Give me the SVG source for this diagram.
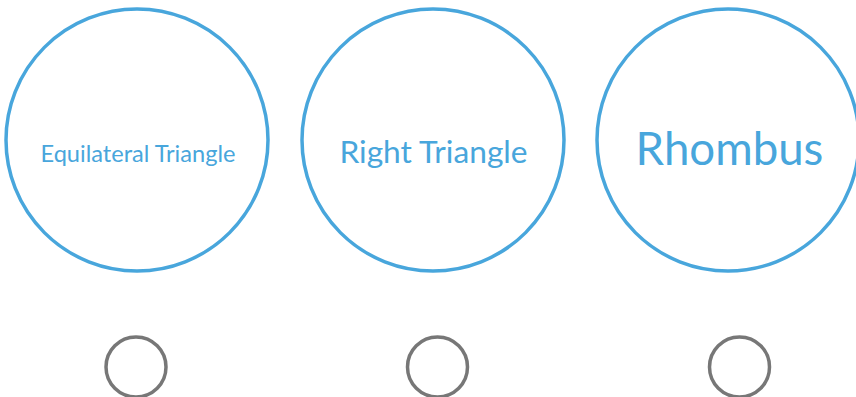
<svg xmlns="http://www.w3.org/2000/svg" width="856" height="397" viewBox="0 0 856 397">
<style>
.big{fill:none;stroke:#48a6dc;stroke-width:3.5}
.small{fill:none;stroke:#777777;stroke-width:3.5}
.lbl{fill:#48a6dc;font-family:Lato,"Open Sans",sans-serif;text-anchor:middle}
</style>
<rect width="856" height="397" fill="#ffffff"/>
<g id="equilateral">
<circle class="big" cx="137" cy="140" r="131"/>
<text class="lbl" x="138" y="162" font-size="23.6">Equilateral Triangle</text>
</g>
<g id="right">
<circle class="big" cx="433" cy="140" r="131"/>
<text class="lbl" x="433.5" y="163" font-size="31.7">Right Triangle</text>
</g>
<g id="rhombus">
<circle class="big" cx="728" cy="140" r="131"/>
<text class="lbl" x="729.5" y="165" font-size="45.6">Rhombus</text>
</g>
<g id="dot1"><circle class="small" cx="136" cy="367" r="30"/></g>
<g id="dot2"><circle class="small" cx="437.5" cy="367" r="30"/></g>
<g id="dot3"><circle class="small" cx="739.5" cy="367" r="30"/></g>
<g id="connectors"></g>
</svg>
